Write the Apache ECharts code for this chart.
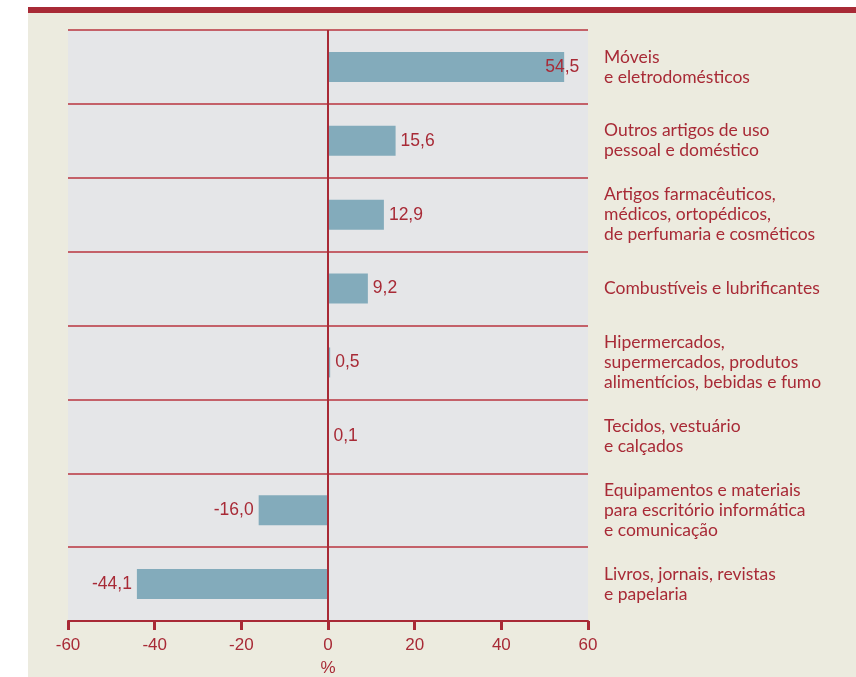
<!DOCTYPE html>
<html><head><meta charset="utf-8">
<script src="https://cdn.jsdelivr.net/npm/echarts@6/dist/echarts.min.js"></script>
<style>html,body{margin:0;padding:0;background:#fff}#c{width:856px;height:677px}</style>
</head><body><div id="c"></div>
<script>
const categories = [
  "Móveis\ne eletrodomésticos",
  "Outros artigos de uso\npessoal e doméstico",
  "Artigos farmacêuticos,\nmédicos, ortopédicos,\nde perfumaria e cosméticos",
  "Combustíveis e lubrificantes",
  "Hipermercados,\nsupermercados, produtos\nalimentícios, bebidas e fumo",
  "Tecidos, vestuário\ne calçados",
  "Equipamentos e materiais\npara escritório informática\ne comunicação",
  "Livros, jornais, revistas\ne papelaria"
];
const values = [54.5, 15.6, 12.9, 9.2, 0.5, 0.1, -16.0, -44.1];
const xTicks = [-60, -40, -20, 0, 20, 40, 60];

const RED = '#a82a36';
const chart = echarts.init(document.getElementById('c'));
const fmt = v => v.toFixed(1).replace('.', ',');
chart.setOption({
  backgroundColor: '#ffffff',
  animation: false,
  graphic: [
    {type:'rect', shape:{x:28,y:7,width:828,height:670}, style:{fill:'#ecebdf'}, z:-10},
    {type:'rect', shape:{x:28,y:7,width:828,height:6}, style:{fill:RED}, z:-9}
  ],
  grid: {left:68, right:268, top:30, bottom:56, show:true, backgroundColor:'#e5e6e8', borderWidth:0,
    containLabel:false, outerBoundsMode:'none'},
  xAxis: {
    type:'value', min:-60, max:60, interval:20,
    axisLine:{show:true, onZero:false, lineStyle:{color:RED, width:2}},
    axisTick:{show:true, length:9, lineStyle:{color:RED, width:3}},
    splitLine:{show:false},
    axisLabel:{color:RED, fontSize:17, fontFamily:'Liberation Sans', margin:16,
      formatter: v => xTicks.includes(v) ? String(v) : ''},
    name:'%', nameLocation:'middle', nameGap:39,
    nameTextStyle:{color:RED, fontSize:17, fontFamily:'Liberation Sans'}
  },
  yAxis: {
    type:'category', data:categories, inverse:true, position:'right',
    axisLine:{show:false}, axisTick:{show:false},
    splitLine:{show:true, lineStyle:{color:'#b8343f', width:1.5}},
    axisLabel:{color:RED, fontSize:17.5, fontFamily:'Lato', lineHeight:20, margin:16, align:'left'}
  },
  series: [{
    type:'bar', barWidth:30,
    data: values.map((v,i) => {
      const d = {value:v, itemStyle:{color:'#83abbb'}};
      if (i === 0) d.label = {offset:[-24,0]};
      if (v < 0) d.label = {position:'left'};
      return d;
    }),
    label:{show:true, formatter: p => fmt(p.value), color:RED, fontSize:17.5,
      fontFamily:'Liberation Sans', distance:5, position:'right'},
    markLine:{silent:true, symbol:'none', label:{show:false},
      lineStyle:{color:RED, width:2, type:'solid'}, data:[{xAxis:0}]}
  }]
});
</script></body></html>
